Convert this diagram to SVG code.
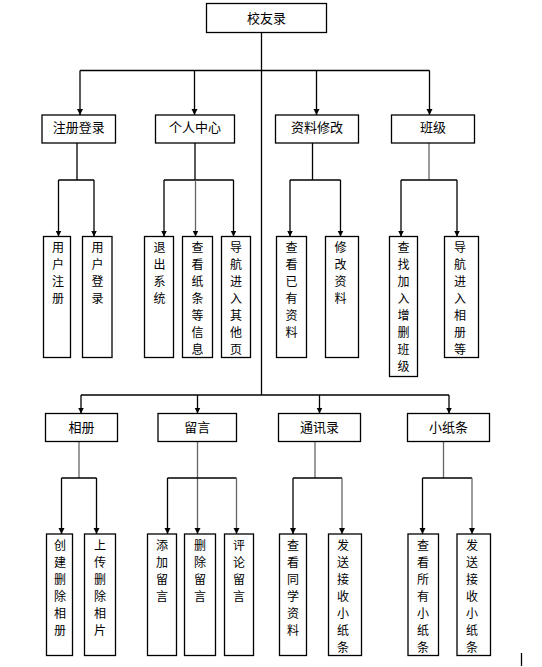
<svg xmlns="http://www.w3.org/2000/svg" width="542" height="667" viewBox="0 0 542 667">
<style>
rect{fill:#fff;stroke:#000;stroke-width:1.3}
text{font-family:"Noto Sans CJK SC","Noto Sans CJK JP",sans-serif;font-size:13px;fill:#000;text-anchor:middle}
.v text{font-size:12px}
.c line{stroke:#000;stroke-width:1.3;fill:none}
.c .g{stroke:#666}
.a{marker-end:url(#ah)}
</style>
<defs>
<marker id="ah" markerUnits="userSpaceOnUse" markerWidth="7" markerHeight="7" refX="6" refY="3" orient="auto"><path d="M0,0 L6,3 L0,6 z" fill="#000"/></marker>
</defs>
<rect width="542" height="667" style="stroke:none"/>
<g class="c" id="connectors">
<line x1="261.5" y1="32.5" x2="261.5" y2="395"/>
<line x1="80" y1="70.5" x2="429.5" y2="70.5"/>
<line class="a" x1="80" y1="70.5" x2="80" y2="115"/>
<line class="a" x1="194.5" y1="70.5" x2="194.5" y2="115"/>
<line class="a" x1="316.5" y1="70.5" x2="316.5" y2="115"/>
<line class="a" x1="429.5" y1="70.5" x2="429.5" y2="115"/>
<line x1="77" y1="143" x2="77" y2="180"/>
<line x1="58.5" y1="180" x2="94" y2="180"/>
<line class="a" x1="58.5" y1="180" x2="58.5" y2="236.5"/>
<line class="a" x1="94" y1="180" x2="94" y2="236.5"/>
<line x1="195" y1="143" x2="195" y2="180"/>
<line x1="164" y1="180" x2="233.5" y2="180"/>
<line class="a" x1="164" y1="180" x2="164" y2="236.5"/>
<line class="a g" x1="195.5" y1="180" x2="195.5" y2="236.5"/>
<line class="a" x1="233.5" y1="180" x2="233.5" y2="236.5"/>
<line x1="312.5" y1="143" x2="312.5" y2="180"/>
<line x1="290" y1="180" x2="340.5" y2="180"/>
<line class="a" x1="290" y1="180" x2="290" y2="236.5"/>
<line class="a" x1="340.5" y1="180" x2="340.5" y2="236.5"/>
<line class="g" x1="429" y1="143" x2="429" y2="180"/>
<line x1="401" y1="180" x2="457" y2="180"/>
<line class="a" x1="401" y1="180" x2="401" y2="236.5"/>
<line class="a" x1="457" y1="180" x2="457" y2="236.5"/>
<line x1="81" y1="395" x2="449" y2="395"/>
<line class="a" x1="81" y1="395" x2="81" y2="413.5"/>
<line class="a" x1="197.5" y1="395" x2="197.5" y2="413.5"/>
<line class="a" x1="319.5" y1="395" x2="319.5" y2="413.5"/>
<line class="a" x1="449" y1="395" x2="449" y2="413.5"/>
<line class="g" x1="79" y1="441.5" x2="79" y2="478"/>
<line x1="61.5" y1="478" x2="96.5" y2="478"/>
<line class="a" x1="61.5" y1="478" x2="61.5" y2="534"/>
<line class="a" x1="96.5" y1="478" x2="96.5" y2="534"/>
<line class="a g" x1="197.5" y1="441.5" x2="197.5" y2="534"/>
<line x1="167.5" y1="478" x2="236.5" y2="478"/>
<line class="a" x1="167.5" y1="478" x2="167.5" y2="534"/>
<line class="a g" x1="236.5" y1="478" x2="236.5" y2="534"/>
<line class="g" x1="315" y1="441.5" x2="315" y2="478"/>
<line x1="293" y1="478" x2="342" y2="478"/>
<line class="a" x1="293" y1="478" x2="293" y2="534"/>
<line class="a g" x1="342" y1="478" x2="342" y2="534"/>
<line class="g" x1="443.5" y1="441.5" x2="443.5" y2="478"/>
<line x1="422.5" y1="478" x2="472" y2="478"/>
<line class="a" x1="422.5" y1="478" x2="422.5" y2="534"/>
<line class="a g" x1="472" y1="478" x2="472" y2="534"/>
<line x1="521.5" y1="653" x2="521.5" y2="666"/>
</g>
<g id="root"><rect x="206.5" y="3.5" width="120" height="29"/><text x="266.5" y="22.5">校友录</text></g>
<g id="n1"><rect x="42" y="115" width="73.5" height="28"/><text x="78.7" y="132">注册登录</text></g>
<g id="n2"><rect x="155.5" y="115" width="79" height="28"/><text x="195" y="132">个人中心</text></g>
<g id="n3"><rect x="275.5" y="115" width="83" height="28"/><text x="317" y="132">资料修改</text></g>
<g id="n4"><rect x="391.5" y="115" width="83" height="28"/><text x="433" y="132">班级</text></g>
<g class="v">
<g id="n1a"><rect x="43.5" y="236.5" width="27" height="121"/><text y="252"><tspan x="58">用</tspan><tspan x="58" dy="17">户</tspan><tspan x="58" dy="17">注</tspan><tspan x="58" dy="17">册</tspan></text></g>
<g id="n1b"><rect x="82.5" y="236.5" width="29.5" height="121"/><text y="252"><tspan x="97.5">用</tspan><tspan x="97.5" dy="17">户</tspan><tspan x="97.5" dy="17">登</tspan><tspan x="97.5" dy="17">录</tspan></text></g>
<g id="n2a"><rect x="144.5" y="236.5" width="29" height="121"/><text y="252"><tspan x="159.5">退</tspan><tspan x="159.5" dy="17">出</tspan><tspan x="159.5" dy="17">系</tspan><tspan x="159.5" dy="17">统</tspan></text></g>
<g id="n2b"><rect x="182.5" y="236.5" width="30" height="121"/><text y="252"><tspan x="197.5">查</tspan><tspan x="197.5" dy="17">看</tspan><tspan x="197.5" dy="17">纸</tspan><tspan x="197.5" dy="17">条</tspan><tspan x="197.5" dy="17">等</tspan><tspan x="197.5" dy="17">信</tspan><tspan x="197.5" dy="17">息</tspan></text></g>
<g id="n2c"><rect x="221.5" y="236.5" width="29" height="121"/><text y="252"><tspan x="236">导</tspan><tspan x="236" dy="17">航</tspan><tspan x="236" dy="17">进</tspan><tspan x="236" dy="17">入</tspan><tspan x="236" dy="17">其</tspan><tspan x="236" dy="17">他</tspan><tspan x="236" dy="17">页</tspan></text></g>
<g id="n3a"><rect x="276.5" y="236.5" width="30" height="121"/><text y="252"><tspan x="291.5">查</tspan><tspan x="291.5" dy="17">看</tspan><tspan x="291.5" dy="17">已</tspan><tspan x="291.5" dy="17">有</tspan><tspan x="291.5" dy="17">资</tspan><tspan x="291.5" dy="17">料</tspan></text></g>
<g id="n3b"><rect x="325.5" y="236.5" width="33" height="121"/><text y="252"><tspan x="340.5">修</tspan><tspan x="340.5" dy="17">改</tspan><tspan x="340.5" dy="17">资</tspan><tspan x="340.5" dy="17">料</tspan></text></g>
<g id="n4a"><rect x="389.5" y="236.5" width="28" height="140"/><text y="252"><tspan x="403.5">查</tspan><tspan x="403.5" dy="17">找</tspan><tspan x="403.5" dy="17">加</tspan><tspan x="403.5" dy="17">入</tspan><tspan x="403.5" dy="17">增</tspan><tspan x="403.5" dy="17">删</tspan><tspan x="403.5" dy="17">班</tspan><tspan x="403.5" dy="17">级</tspan></text></g>
<g id="n4b"><rect x="444.5" y="236.5" width="34" height="121"/><text y="252"><tspan x="460">导</tspan><tspan x="460" dy="17">航</tspan><tspan x="460" dy="17">进</tspan><tspan x="460" dy="17">入</tspan><tspan x="460" dy="17">相</tspan><tspan x="460" dy="17">册</tspan><tspan x="460" dy="17">等</tspan></text></g>
</g>
<g id="n5"><rect x="45.5" y="413.5" width="72" height="28"/><text x="81.5" y="431.5">相册</text></g>
<g id="n6"><rect x="158" y="413.5" width="78.5" height="28"/><text x="197.3" y="431.5">留言</text></g>
<g id="n7"><rect x="278.5" y="413.5" width="82" height="28"/><text x="319.5" y="431.5">通讯录</text></g>
<g id="n8"><rect x="407.5" y="413.5" width="82" height="28"/><text x="448.5" y="431.5">小纸条</text></g>
<g class="v">
<g id="n5a"><rect x="46.5" y="534" width="26" height="121.5"/><text y="550"><tspan x="60">创</tspan><tspan x="60" dy="17">建</tspan><tspan x="60" dy="17">删</tspan><tspan x="60" dy="17">除</tspan><tspan x="60" dy="17">相</tspan><tspan x="60" dy="17">册</tspan></text></g>
<g id="n5b"><rect x="84.5" y="534" width="31" height="121.5"/><text y="550"><tspan x="100">上</tspan><tspan x="100" dy="17">传</tspan><tspan x="100" dy="17">删</tspan><tspan x="100" dy="17">除</tspan><tspan x="100" dy="17">相</tspan><tspan x="100" dy="17">片</tspan></text></g>
<g id="n6a"><rect x="147.5" y="534" width="29" height="121.5"/><text y="550"><tspan x="162">添</tspan><tspan x="162" dy="17">加</tspan><tspan x="162" dy="17">留</tspan><tspan x="162" dy="17">言</tspan></text></g>
<g id="n6b"><rect x="184.5" y="534" width="31" height="121.5"/><text y="550"><tspan x="200">删</tspan><tspan x="200" dy="17">除</tspan><tspan x="200" dy="17">留</tspan><tspan x="200" dy="17">言</tspan></text></g>
<g id="n6c"><rect x="224.5" y="534" width="29" height="121.5"/><text y="550"><tspan x="239">评</tspan><tspan x="239" dy="17">论</tspan><tspan x="239" dy="17">留</tspan><tspan x="239" dy="17">言</tspan></text></g>
<g id="n7a"><rect x="279.5" y="534" width="27" height="121.5"/><text y="550"><tspan x="293">查</tspan><tspan x="293" dy="17">看</tspan><tspan x="293" dy="17">同</tspan><tspan x="293" dy="17">学</tspan><tspan x="293" dy="17">资</tspan><tspan x="293" dy="17">料</tspan></text></g>
<g id="n7b"><rect x="328.5" y="534" width="33" height="121.5"/><text y="550"><tspan x="343">发</tspan><tspan x="343" dy="17">送</tspan><tspan x="343" dy="17">接</tspan><tspan x="343" dy="17">收</tspan><tspan x="343" dy="17">小</tspan><tspan x="343" dy="17">纸</tspan><tspan x="343" dy="17">条</tspan></text></g>
<g id="n8a"><rect x="408" y="534" width="30.5" height="121.5"/><text y="550"><tspan x="423">查</tspan><tspan x="423" dy="17">看</tspan><tspan x="423" dy="17">所</tspan><tspan x="423" dy="17">有</tspan><tspan x="423" dy="17">小</tspan><tspan x="423" dy="17">纸</tspan><tspan x="423" dy="17">条</tspan></text></g>
<g id="n8b"><rect x="457" y="534" width="33.5" height="121.5"/><text y="550"><tspan x="472">发</tspan><tspan x="472" dy="17">送</tspan><tspan x="472" dy="17">接</tspan><tspan x="472" dy="17">收</tspan><tspan x="472" dy="17">小</tspan><tspan x="472" dy="17">纸</tspan><tspan x="472" dy="17">条</tspan></text></g>
</g>
</svg>
